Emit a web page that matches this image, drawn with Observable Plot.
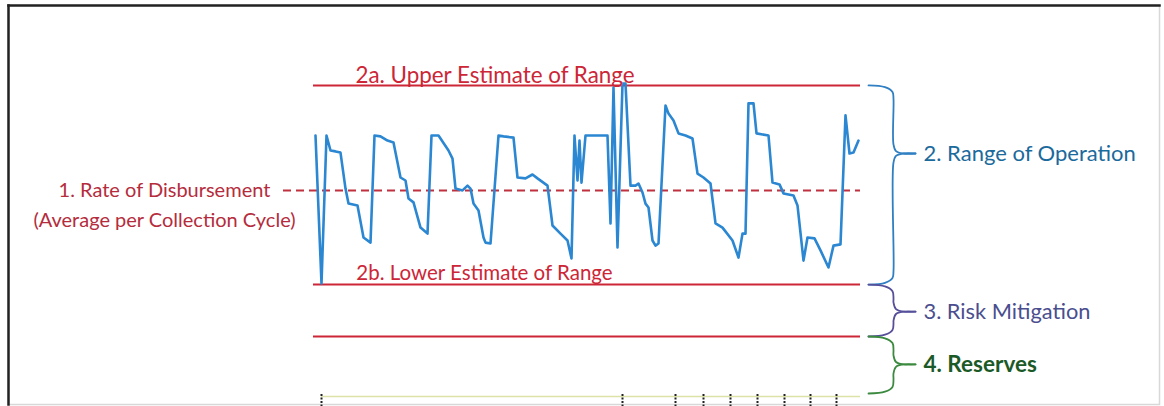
<!DOCTYPE html>
<html><head><meta charset="utf-8">
<script src="https://cdn.jsdelivr.net/npm/d3@7"></script>
<script src="https://cdn.jsdelivr.net/npm/@observablehq/plot@0.6"></script>
<style>body{margin:0;background:#fff}</style>
</head><body><div id="chart"></div>
<script>
// ---- data ----
const dayX = [0.4,1.6,2.6,3.4,4.4,5.4,6.4,7.0,8.8,10.0,11.4,12.2,13.4,14.8,16.0,17.4,18.4,19.0,20.0,21.4,22.8,23.6,25.0,27.0,27.8,28.4,29.8,30.8,31.4,32.0,33.0,34.0,34.4,35.4,37.0,38.0,40.0,40.8,42.4,43.8,44.8,46.8,47.8,49.4,50.8,51.6,52.2,52.8,53.2,53.6,54.4,58.8,59.4,60.0,60.8,61.8,62.4,63.4,64.4,65.0,65.8,66.4,67.0,67.8,68.4,69.0,70.4,71.0,72.0,73.0,74.4,75.8,76.8,78.0,79.4,80.4,81.8,83.8,85.0,85.8,86.4,87.0,88.0,88.6,91.0,91.8,93.2,94.0,96.0,96.8,98.0,98.8,100.2,101.4,103.0,104.0,105.4,106.4,107.2,108.0,109.0];
const balance = [87,37.7,87,82,81.7,81.3,69.3,64.3,63.7,53,51.3,87,86.7,85.3,84.7,73,72,66,64.7,56.3,54.3,87,87,82,79.3,69.3,68.7,70.3,69.3,64.3,62,53,51.3,51,87,86.7,86.3,73,72.7,74,72.7,70.3,57,54.3,52,46,87,72,85.3,71.3,87,87,57.7,103,49.7,104.3,104.3,70.3,70.3,71,68,64.3,63,52,50.3,51,97,94.3,92,87.7,87,86,74.3,73,71,57.7,56.3,52,46.3,54.3,54.3,97.7,97.7,87.7,87,71.3,70.7,67.7,67,63.7,45.3,53,52.7,48.7,43,50.3,50.7,93.7,81,81.3,85.3];
const upperEstimate = 103.7;
const lowerEstimate = 37.3;
const reserveLevel = 20;
const averageRate = 68.7;
const floorLevel = 1;
const lineStart = 0, lineEnd = 109.4, dashStart = -6;
const tickDays = [1.6,61.8,72.4,78,83.4,88.8,94.2,99.4,104.6];
const bracketNames = ["2. Range of Operation","3. Risk Mitigation","4. Reserves"];
const bracketTop = [upperEstimate, lowerEstimate, reserveLevel];
const bracketBottom = [lowerEstimate, reserveLevel, floorLevel];
const bracketTip = [81, 28.3, 10.7];
const bracketColor = ["#2f7fc2","#564f9a","#3b8a3f"];
const labelColor = ["#1b6a9c","#4a4e8e","#1b5a27"];
const labelSize = [22, 21.8, 22.5];

// ---- brace geometry built from the bracket levels ----
function brace(i) {
  const yA = bracketTop[i], yB = bracketBottom[i], yT = bracketTip[i];
  const top = [[111,yA],[114.3,yA-0.6],[115.8,yA-2.2],[116,yA-4.5],[116,yT+3],[116.5,yT+0.8],[118,yT],[120.4,yT]];
  const bot = [[120.4,yT],[118,yT],[116.5,yT-0.8],[116,yT-3],[116,yB+4.5],[115.8,yB+2.2],[114.3,yB+0.6],[111,yB]];
  return [...top.map(p => ({x:p[0], y:p[1], z:i+"t", c:bracketColor[i]})),
          ...bot.map(p => ({x:p[0], y:p[1], z:i+"b", c:bracketColor[i]}))];
}
const braceData = [0,1,2].flatMap(brace);
const series = dayX.map((x,i) => ({x, y: balance[i]}));
const labels = bracketNames.map((t,i) => ({t, y: bracketTip[i], c: labelColor[i], s: labelSize[i], w: i === 2 ? "bold" : "normal"}));

const red = "#cc2637";
const chart = Plot.plot({
  width: 1164, height: 406,
  marginTop: 5, marginLeft: 8, marginRight: 5, marginBottom: 2,
  x: {domain: [0,110], range: [313, 863], axis: null},
  y: {domain: [0,105], range: [396, 81], axis: null},
  style: {fontFamily: "Lato, 'Open Sans', sans-serif", background: "#fff"},
  marks: [
    Plot.frame({stroke: "#d8d8d8", strokeWidth: 1.5}),
    Plot.frame({anchor: "top", stroke: "#222", strokeWidth: 2.5}),
    Plot.frame({anchor: "left", stroke: "#222", strokeWidth: 2.5}),
    Plot.ruleY([0], {x1: tickDays[0], x2: lineEnd, stroke: "#dde3a8", strokeWidth: 1.5}),
    Plot.ruleX(tickDays, {y1: 0.7, y2: -3.6, stroke: "#222", strokeWidth: 2, strokeDasharray: "2,1.5"}),
    Plot.ruleY([upperEstimate, lowerEstimate, reserveLevel], {x1: lineStart, x2: lineEnd, stroke: red, strokeWidth: 2}),
    Plot.ruleY([averageRate], {x1: dashStart, x2: lineEnd, stroke: "#c0303e", strokeWidth: 2, strokeDasharray: "8,5"}),
    Plot.line(series, {x: "x", y: "y", stroke: "#2b87d1", strokeWidth: 2.6, strokeLinejoin: "round"}),
    Plot.line(braceData, {x: "x", y: "y", z: "z", stroke: "c", strokeWidth: 1.8, curve: "catmull-rom"}),
    Plot.text(["2a. Upper Estimate of Range"], {x: 36.3, y: 107, fill: red, fontSize: 22.4}),
    Plot.text(["2b. Lower Estimate of Range"], {x: 34.2, y: 41, fill: red, fontSize: 20.5}),
    Plot.text(["1. Rate of Disbursement"], {x: -29.8, y: averageRate, fill: "#b52c3c", fontSize: 20}),
    Plot.text(["(Average per Collection Cycle)"], {x: -29.8, y: 58.7, fill: "#b52c3c", fontSize: 20}),
    ...labels.map(d => Plot.text([d], {x: 122, y: "y", text: "t", textAnchor: "start", fill: d.c, fontSize: d.s, fontWeight: d.w}))
  ]
});
document.getElementById("chart").append(chart);
</script>
</body></html>
